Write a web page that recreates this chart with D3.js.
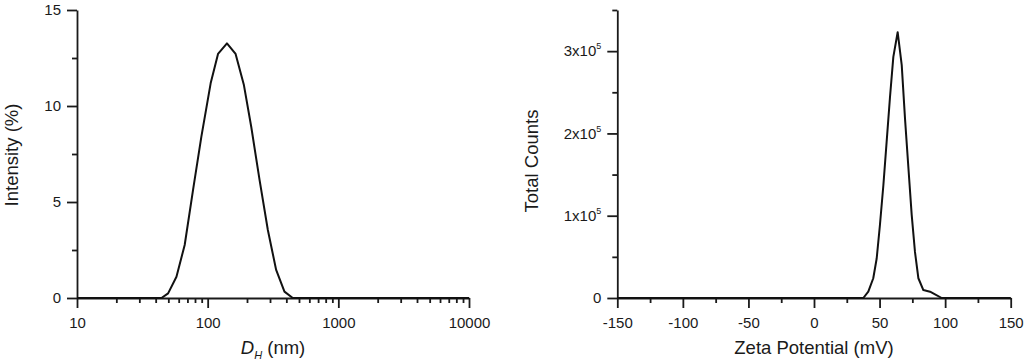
<!DOCTYPE html>
<html>
<head>
<meta charset="utf-8">
<script src="https://cdn.jsdelivr.net/npm/d3@7"></script>
<style>
  html, body { margin: 0; padding: 0; background: #fff; }
  svg { display: block; }
  text { font-family: "Liberation Sans", Arial, sans-serif; }
  .axis path, .axis line { stroke: #1a1a1a; stroke-width: 1.8px; }
  .axis text { font-size: 15px; fill: #1a1a1a; font-family: "Liberation Sans", Arial, sans-serif; }
  .curve { fill: none; stroke: #111; stroke-width: 2px; stroke-linejoin: round; }
  .title { font-size: 18.5px; fill: #1a1a1a; }
</style>
</head>
<body>
<svg id="chart" width="1024" height="363"></svg>
<script>
// Size distribution (DLS): hydrodynamic diameter (nm) vs intensity (%)
const sizeNm = [10, 44.3, 49.8, 57.7, 66.7, 77.3, 89.5, 105.4, 120, 140.5, 163.6, 189.4, 215.5, 249.5, 288.8, 334.3, 387, 448, 10000];
const intensity = [0, 0, 0.24, 1.11, 2.76, 5.63, 8.4, 11.18, 12.71, 13.26, 12.71, 11.09, 8.92, 6.15, 3.54, 1.46, 0.33, 0, 0];

// Zeta potential distribution: potential (mV) vs total counts
const zetaMv = [-150, 37.6, 41.4, 45.2, 47.8, 50.3, 52.9, 55.4, 57.9, 60.5, 63.8, 66.9, 69.4, 72, 74.5, 77, 79.6, 83.4, 88.5, 92.3, 97.4, 150];
const counts = [0, 0, 7700, 24000, 48000, 89000, 137000, 190000, 243000, 293000, 323000, 283000, 218000, 158000, 101000, 56000, 24000, 9700, 7700, 4500, 0, 0];

const sizeTicks = [10, 100, 1000, 10000];
const intensityTicks = [0, 5, 10, 15];
const zetaTicks = [-150, -100, -50, 0, 50, 100, 150];
const countTicks = [0, 1e5, 2e5, 3e5];

const svg = d3.select('#chart');
const plotTop = 10, plotBottom = 298;

// plain hyphen for negatives, like the original plot
const plainFormat = d => String(d);

/**
 * Draw one panel: axes with major/minor ticks, the curve and titles
 */
function panel(opts) {
    const g = svg.append('g');
    const x = opts.x, y = opts.y;

    // minor ticks first, main axes on top
    g.append('g').attr('class', 'axis')
        .attr('transform', `translate(0,${plotBottom})`)
        .call(d3.axisBottom(x).tickValues(opts.xMinor).tickSize(5).tickSizeOuter(0).tickFormat(''))
        .call(s => s.select('.domain').remove());
    g.append('g').attr('class', 'axis')
        .attr('transform', `translate(${x.range()[0]},0)`)
        .call(d3.axisLeft(y).tickValues(opts.yMinor).tickSize(5).tickSizeOuter(0).tickFormat(''))
        .call(s => s.select('.domain').remove());

    g.append('g').attr('class', 'axis')
        .attr('transform', `translate(0,${plotBottom})`)
        .call(d3.axisBottom(x).tickValues(opts.xTicks).tickSize(10).tickSizeOuter(0)
            .tickPadding(9).tickFormat(plainFormat));

    const yAxis = g.append('g').attr('class', 'axis')
        .attr('transform', `translate(${x.range()[0]},0)`)
        .call(d3.axisLeft(y).tickValues(opts.yTicks).tickSize(10).tickSizeOuter(0)
            .tickPadding(opts.yPad || 7).tickFormat(plainFormat));
    if (opts.yLabel) yAxis.selectAll('.tick text').each(opts.yLabel);

    g.append('path')
        .datum(opts.xs.map((v, i) => [v, opts.ys[i]]))
        .attr('class', 'curve')
        .attr('d', d3.line().x(d => x(d[0])).y(d => y(d[1])));

    const cx = (x.range()[0] + x.range()[1]) / 2;
    const xt = g.append('text').attr('class', 'title')
        .attr('x', cx).attr('y', 354).attr('text-anchor', 'middle');
    opts.xTitle(xt);

    g.append('text').attr('class', 'title')
        .attr('transform', `translate(${opts.yTitleX},${opts.yTitleY}) rotate(-90)`)
        .attr('text-anchor', 'middle')
        .text(opts.yTitle);
}

// Left: size distribution on log axis
const xSize = d3.scaleLog().domain([10, 10000]).range([77, 469]);
const ySize = d3.scaleLinear().domain([0, 15]).range([plotBottom, plotTop]);
const sizeMinor = [];
[10, 100, 1000].forEach(dec => { for (let k = 2; k <= 9; k++) sizeMinor.push(dec * k); });

panel({
    x: xSize, y: ySize,
    xs: sizeNm, ys: intensity,
    xTicks: sizeTicks, xMinor: sizeMinor,
    yTicks: intensityTicks, yMinor: [2.5, 7.5, 12.5],
    yPad: 6,
    xTitle: t => {
        t.append('tspan').attr('font-style', 'italic').text('D');
        t.append('tspan').attr('font-style', 'italic').attr('font-size', '11px').attr('dy', 5).text('H');
        t.append('tspan').attr('dy', -5).text(' (nm)');
    },
    yTitle: 'Intensity (%)', yTitleX: 18, yTitleY: 155
});

// Right: zeta potential distribution
const xZeta = d3.scaleLinear().domain([-150, 150]).range([617.3, 1010.7]);
const yCount = d3.scaleLinear().domain([0, 3.5e5]).range([plotBottom, plotTop]);

panel({
    x: xZeta, y: yCount,
    xs: zetaMv, ys: counts,
    xTicks: zetaTicks, xMinor: d3.range(-125, 150, 50),
    yTicks: countTicks, yMinor: [0.5e5, 1.5e5, 2.5e5, 3.5e5],
    yPad: 6,
    yLabel: function (d) {
        const t = d3.select(this).text('');
        if (d === 0) { t.text('0'); return; }
        t.append('tspan').text(`${d / 1e5}x10`);
        t.append('tspan').attr('font-size', '9px').attr('dy', -7).text('5');
    },
    xTitle: t => t.text('Zeta Potential (mV)'),
    yTitle: 'Total Counts', yTitleX: 538, yTitleY: 161
});
</script>
</body>
</html>
